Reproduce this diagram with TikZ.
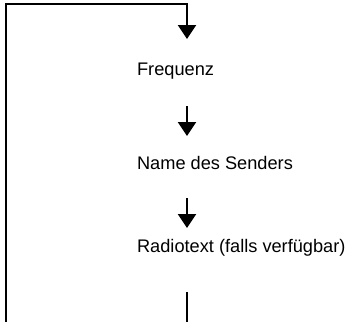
\documentclass[tikz,border=0pt]{standalone}
\usepackage{fontspec}
\setmainfont{Liberation Sans}
\usetikzlibrary{arrows.meta}

\begin{document}
\begin{tikzpicture}[
  x=0.5pt, y=-0.5pt,
  line width=1.1pt,  item/.style={anchor=west,inner sep=0pt,font=\fontsize{9.1pt}{11pt}\selectfont},  flow/.style={-{Triangle[width=9pt,length=7pt]}}
]
  \useasboundingbox (0,0) rectangle (347,321);
  \node[item] (freq) at (136,71) {Frequenz};
  \node[item] (name) at (136,163) {Name des Senders};
  \node[item] (radio) at (136,248) {Radiotext (falls verfügbar)};
  \coordinate (c0) at (6,322);
  \coordinate (c1) at (6,4);
  \coordinate (c2) at (187,4);
  \coordinate (t1) at (187,39);
  \coordinate (s2) at (187,106);
  \coordinate (t2) at (187,136);
  \coordinate (s3) at (187,198);
  \coordinate (t3) at (187,228);
  \coordinate (s4) at (187,292);
  \coordinate (e4) at (187,322);
  \draw[flow,line join=miter] (c0) -- (c1) -- (c2) -- (t1);
  \draw[flow] (s2) -- (t2);
  \draw[flow] (s3) -- (t3);
  \draw (s4) -- (e4);
\end{tikzpicture}
\end{document}
